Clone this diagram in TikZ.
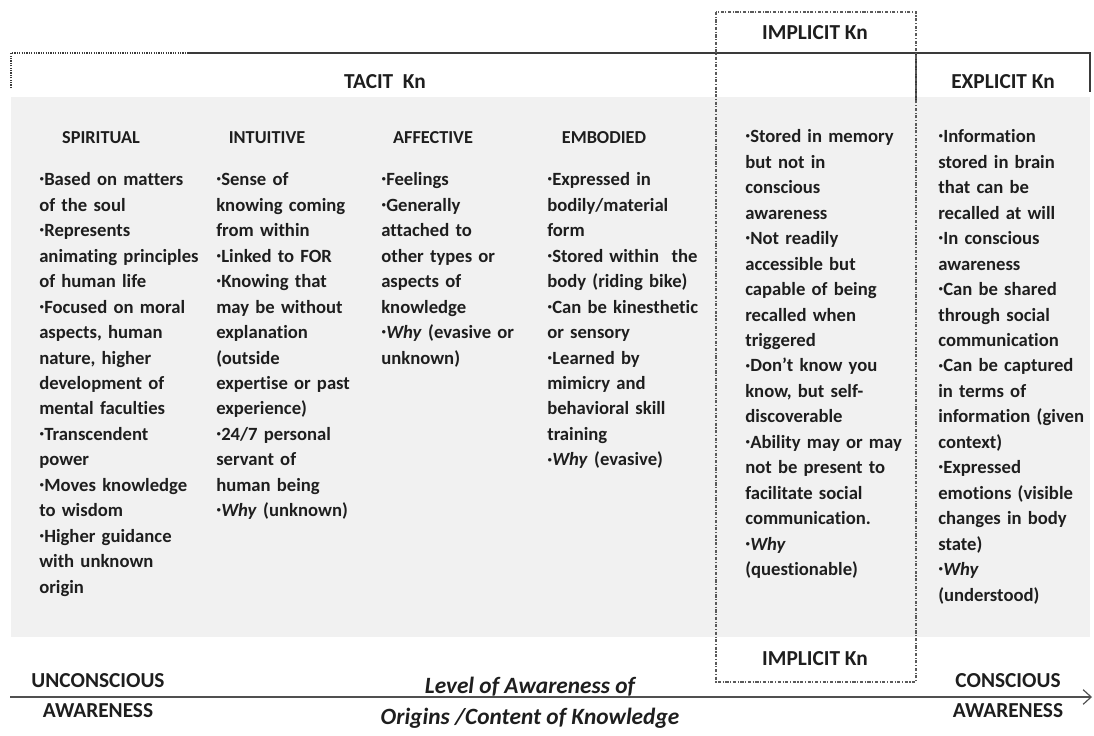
\documentclass[tikz,border=0pt]{standalone}
\usepackage{fontspec}
\setmainfont{Carlito}[Ligatures={NoCommon}]
\usetikzlibrary{arrows.meta}

\definecolor{panel}{HTML}{F1F1F1}
\definecolor{ink}{HTML}{1E1E1E}
\definecolor{rule}{HTML}{3A3A3A}
\definecolor{dashline}{HTML}{5A5A5A}
\definecolor{axisline}{HTML}{505050}

\newcommand\bodyfont{\fontsize{14pt}{19.1pt}\selectfont\bfseries}
\newcommand\headfont{\fontsize{13.7pt}{16pt}\selectfont\bfseries}
\newcommand\labelfont{\fontsize{16pt}{19pt}\selectfont\bfseries}
\newcommand\axisfont{\fontsize{17.5pt}{21pt}\selectfont\bfseries\itshape}
% small list dot in front of each item
\newcommand\bul{\raisebox{0.1ex}{·}}

\begin{document}
\begin{tikzpicture}[x=0.75pt,y=-0.75pt,
  col/.style={anchor=north west, inner sep=0pt, text width=150pt, align=left, font=\bodyfont, text=ink},
  head/.style={anchor=base, inner sep=0pt, font=\headfont, text=ink},
  kn/.style={anchor=base, inner sep=0pt, font=\labelfont, text=ink},
  axislabel/.style={anchor=base, inner sep=0pt, font=\axisfont, text=ink},
  bracket/.style={draw=rule, line width=1.3pt},
  dotbracket/.style={draw=rule, line width=1.3pt, dash pattern=on 0.9pt off 0.9pt},
  implicitbox/.style={draw=dashline, line width=0.9pt, dash pattern=on 2.4pt off 1.2pt on 0.8pt off 1.2pt},
  axis/.style={draw=axisline, line width=1.8pt, -{Straight Barb[length=6pt,width=11pt,line width=0.9pt]}}
]
\useasboundingbox (0,0) rectangle (1094,735);

% shaded panel behind the columns
\fill[panel] (11,97) rectangle (1090,637);

% bracket over the tacit and explicit parts
\coordinate (bl) at (11,53);
\coordinate (bldown) at (11,88);
\coordinate (bdot) at (188,53);
\coordinate (bmid) at (916,53);
\coordinate (bmiddown) at (916,100);
\coordinate (br) at (1090,53);
\coordinate (brdown) at (1090,92);
\draw[dotbracket] (bldown) -- (bl) -- (bdot);
\draw[bracket] (bdot) -- (br) -- (brdown);
\draw[bracket] (bmid) -- (bmiddown);

% implicit knowledge frame
\draw[implicitbox] (716,12) rectangle (916,682);

% top labels
\node[kn] (tacit) at (385,89) {TACIT\ \ Kn};
\node[kn] (implicittop) at (815,40) {IMPLICIT Kn};
\node[kn] (explicit) at (1003,89) {EXPLICIT Kn};

% column headings
\node[head] (hspir) at (101,143) {SPIRITUAL};
\node[head] (hintu) at (267,143) {INTUITIVE};
\node[head] (haffe) at (433,143) {AFFECTIVE};
\node[head] (hembo) at (604,143) {EMBODIED};

% column texts
\node[col] (spiritual) at (39,167.7) {\strut\bul Based on matters\\of the soul\\\bul Represents\\animating principles\\of human life\\\bul Focused on moral\\aspects, human\\nature, higher\\development of\\mental faculties\\\bul Transcendent\\power\\\bul Moves knowledge\\to wisdom\\\bul Higher guidance\\with unknown\\origin};

\node[col] (intuitive) at (216,167.7) {\strut\bul Sense of\\knowing coming\\from within\\\bul Linked to FOR\\\bul Knowing that\\may be without\\explanation\\(outside\\expertise or past\\experience)\\\bul 24/7 personal\\servant of\\human being\\\bul\textit{Why} (unknown)};

\node[col] (affective) at (381,167.7) {\strut\bul Feelings\\\bul Generally\\attached to\\other types or\\aspects of\\knowledge\\\bul\textit{Why} (evasive or\\unknown)};

\node[col] (embodied) at (547,167.7) {\strut\bul Expressed in\\bodily/material\\form\\\bul Stored within\ \ the\\body (riding bike)\\\bul Can be kinesthetic\\or sensory\\\bul Learned by\\mimicry and\\behavioral skill\\training\\\bul\textit{Why} (evasive)};

\node[col] (implicit) at (745,124.7) {\strut\bul Stored in memory\\but not in\\conscious\\awareness\\\bul Not readily\\accessible but\\capable of being\\recalled when\\triggered\\\bul Don’t know you\\know, but self-\\discoverable\\\bul Ability may or may\\not be present to\\facilitate social\\communication.\\\bul\textit{Why}\\(questionable)};

\node[col] (explicitcol) at (938,124.7) {\strut\bul Information\\stored in brain\\that can be\\recalled at will\\\bul In conscious\\awareness\\\bul Can be shared\\through social\\communication\\\bul Can be captured\\in terms of\\information (given\\context)\\\bul Expressed\\emotions (visible\\changes in body\\state)\\\bul\textit{Why}\\(understood)};

% lower implicit label
\node[kn] (implicitbot) at (815,665) {IMPLICIT Kn};

% awareness axis
\coordinate (axstart) at (10,697);
\coordinate (axend) at (1092,697);
\draw[axis] (axstart) -- (axend);

\node[kn] (unc1) at (98,687) {UNCONSCIOUS};
\node[kn] (unc2) at (98,717) {AWARENESS};
\node[kn] (con1) at (1008,687) {CONSCIOUS};
\node[kn] (con2) at (1008,717) {AWARENESS};

\node[axislabel] (lev1) at (530,693) {Level of Awareness of};
\node[axislabel] (lev2) at (530,724) {Origins /Content of Knowledge};
\end{tikzpicture}
\end{document}
